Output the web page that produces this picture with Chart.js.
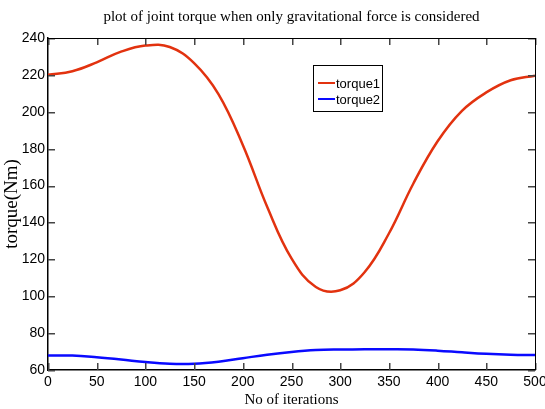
<!DOCTYPE html>
<html>
<head>
<meta charset="utf-8">
<script src="https://cdn.jsdelivr.net/npm/chart.js@4/dist/chart.umd.min.js"></script>
<style>
  html, body { margin: 0; padding: 0; background: #fff; }
  #wrap { width: 545px; height: 409px; }
</style>
</head>
<body>
<div id="wrap"><canvas id="grafico" width="545" height="409"></canvas></div>
<script>
// dados
const iteracoes = [0, 25, 50, 75, 100, 125, 150, 175, 200, 225, 250, 275, 300, 325, 350, 375, 400, 425, 450, 475, 500];
const torque1 = [220, 222, 226.8, 232.6, 235.9, 235.1, 226.4, 209.6, 182, 148.5, 120.5, 105, 103.2, 113, 134, 161, 184, 200.5, 210.5, 217.1, 219.6];
const torque2 = [67.9, 67.8, 66.9, 65.7, 64.3, 63.4, 63.4, 64.5, 66.4, 68.3, 69.8, 70.8, 71.1, 71.2, 71.2, 71.1, 70.5, 69.6, 68.8, 68.3, 68.1];
const nomes = ['torque1', 'torque2'];
const cores = ['#e2320f', '#0a0aff'];

const fonteTick = "'Liberation Sans Narrow', 'Liberation Sans', Arial, sans-serif";
const fonteSerif = "'Liberation Serif', 'Times New Roman', serif";

const pontos = serie => iteracoes.map((x, i) => ({ x, y: serie[i] }));

// caixa fechada + marcas de tick para dentro, nos quatro lados (estilo MATLAB)
const marcasInternas = {
  id: 'marcasInternas',
  afterDraw(chart) {
    const ctx = chart.ctx, a = chart.chartArea, L = 7;
    const sx = chart.scales.x, sy = chart.scales.y;
    const xs = sx.ticks.map(t => Math.round(sx.getPixelForValue(t.value)) + 0.5);
    const ys = sy.ticks.map(t => Math.round(sy.getPixelForValue(t.value)) + 0.5);
    ctx.save();
    ctx.fillStyle = '#444';
    xs.forEach(px => {
      ctx.fillRect(px - 0.5, a.bottom - L, 1.5, L);
      ctx.fillRect(px - 0.5, a.top, 1.5, L);
    });
    ys.forEach(py => {
      ctx.fillRect(a.left, py - 0.5, L, 1.5);
      ctx.fillRect(a.right - L, py - 0.5, L, 1.5);
    });
    ctx.fillStyle = '#000';
    ctx.fillRect(a.left, Math.round(a.top), a.right - a.left, 1);
    ctx.fillRect(Math.round(a.right), a.top, 1, a.bottom - a.top);
    ctx.restore();
  }
};

// legenda no estilo MATLAB, caixa branca dentro da área
const legendaCaixa = {
  id: 'legendaCaixa',
  afterDraw(chart) {
    const ctx = chart.ctx, a = chart.chartArea;
    const x0 = a.left + 265, y0 = a.top + 27, w = 69, h = 46;
    ctx.save();
    ctx.fillStyle = '#fff';
    ctx.fillRect(x0, y0, w, h);
    ctx.strokeStyle = '#000';
    ctx.lineWidth = 1;
    ctx.strokeRect(x0 + 0.5, y0 + 0.5, w, h);
    ctx.font = '13px ' + fonteTick;
    ctx.textBaseline = 'middle';
    ctx.fillStyle = '#000';
    chart.data.datasets.forEach((ds, i) => {
      const y = y0 + 18 + i * 16;
      ctx.strokeStyle = ds.borderColor;
      ctx.lineWidth = 2;
      ctx.beginPath(); ctx.moveTo(x0 + 5, y); ctx.lineTo(x0 + 22, y); ctx.stroke();
      ctx.fillText(ds.label, x0 + 23, y + 1);
    });
    ctx.restore();
  }
};

new Chart(document.getElementById('grafico'), {
  type: 'line',
  data: {
    datasets: [
      { label: nomes[0], data: pontos(torque1), borderColor: cores[0], backgroundColor: cores[0],
        borderWidth: 2.5, pointRadius: 0, tension: 0.4 },
      { label: nomes[1], data: pontos(torque2), borderColor: cores[1], backgroundColor: cores[1],
        borderWidth: 2.5, pointRadius: 0, tension: 0.4 },
    ]
  },
  plugins: [marcasInternas, legendaCaixa],
  options: {
    responsive: false, animation: false,
    layout: { padding: { left: 0, right: 10, top: 0, bottom: 0 } },
    plugins: {
      legend: { display: false },
      tooltip: { enabled: false },
      title: {
        display: true, fullSize: false,
        text: 'plot of joint torque when only gravitational force is considered',
        color: '#000', font: { family: fonteSerif, size: 15, weight: 'normal' },
        padding: { top: 8, bottom: 12 }
      }
    },
    scales: {
      x: {
        type: 'linear', position: 'bottom', min: 0, max: 500,
        ticks: { stepSize: 50, color: '#000', font: { family: fonteTick, size: 14 }, padding: 4, maxRotation: 0 },
        grid: { display: false, drawTicks: false },
        border: { display: true, color: '#000', width: 1.5 },
        title: { display: true, text: 'No of iterations', color: '#000',
          font: { family: fonteSerif, size: 15 }, padding: { top: 0, bottom: 0 } },
        afterFit(s) { s.height = 39; s.paddingLeft = 0; s.paddingRight = 0; }
      },
      y: {
        type: 'linear', position: 'left', min: 60, max: 240,
        ticks: { stepSize: 20, color: '#000', font: { family: fonteTick, size: 14 }, padding: 3 },
        grid: { display: false, drawTicks: false },
        border: { display: true, color: '#000', width: 1.5 },
        title: { display: true, text: 'torque(Nm)', color: '#000',
          font: { family: fonteSerif, size: 19 }, padding: { top: 1, bottom: 0 } },
        afterFit(s) { s.width = 48; }
      }
    }
  }
});
</script>
</body>
</html>
